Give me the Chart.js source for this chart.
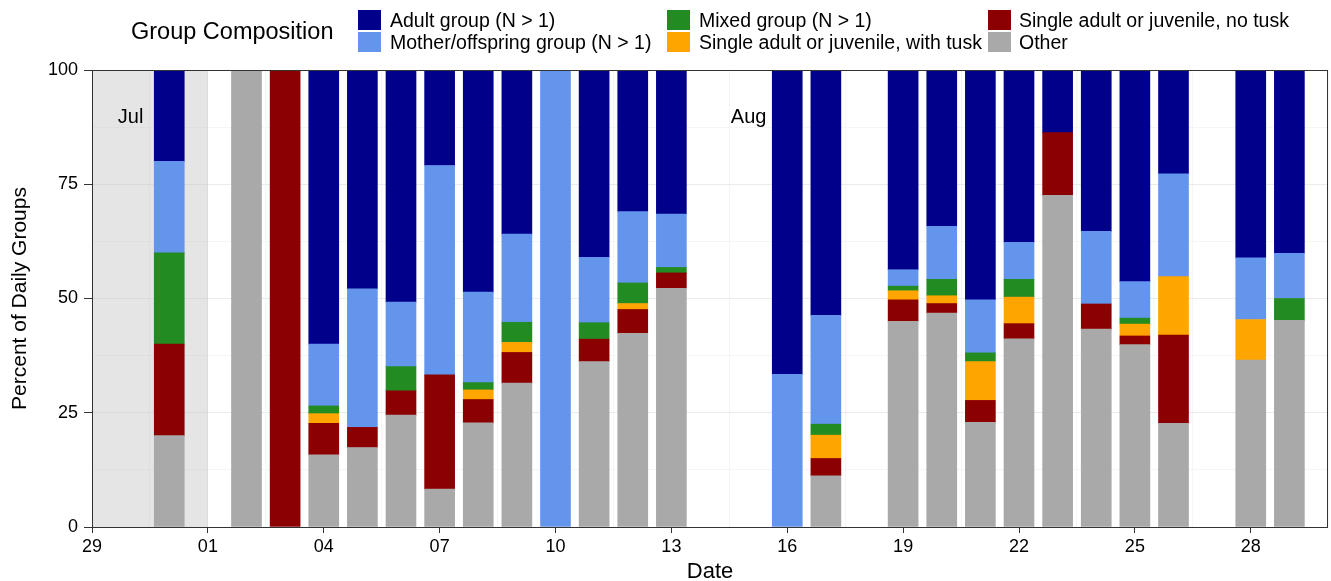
<!DOCTYPE html>
<html>
<head>
<meta charset="utf-8">
<script src="https://cdn.jsdelivr.net/npm/chart.js@4.4.0/dist/chart.umd.min.js"></script>
<style>
body { margin: 0; background: #fff; font-family: 'Liberation Sans', Arial, sans-serif; color: #000; }
#wrap { position: relative; width: 1331px; height: 581px; }
#chart { position: absolute; left: 0; top: 0; }
.legend-title { position: absolute; left: 131px; top: 17px; font-size: 23.5px; line-height: 28px; white-space: nowrap; }
.key { position: absolute; width: 23px; height: 20px; }
.lab { position: absolute; font-size: 19.5px; line-height: 22px; white-space: nowrap; }
</style>
</head>
<body>
<div id="wrap">
  <canvas id="chart" width="1331" height="581"></canvas>
  <div class="legend-title">Group Composition</div>
  <div id="legend"></div>
</div>
<script>
// days with observations (month-day)
const dates = ['07-31','08-02','08-03','08-04','08-05','08-06','08-07','08-08','08-09','08-10',
               '08-11','08-12','08-13','08-16','08-17','08-19','08-20','08-21','08-22','08-23',
               '08-24','08-25','08-26','08-28','08-29'];

// percent of daily groups, per composition class
const other    = [20, 100, 0, 15.8, 17.4, 24.5, 8.3, 22.8, 31.5, 0, 36.2, 42.4, 52.2, 0, 11.2, 45.0, 46.8, 22.9, 41.2, 72.6, 43.3, 39.9, 22.7, 36.5, 45.2];
const noTusk   = [20, 0, 100, 6.9, 4.4, 5.3, 25.0, 5.1, 6.7, 0, 4.9, 5.2, 3.4, 0, 3.8, 4.7, 2.1, 4.8, 3.3, 13.7, 5.5, 1.9, 19.3, 0, 0];
const withTusk = [0, 0, 0, 2.1, 0, 0, 0, 2.1, 2.2, 0, 0, 1.3, 0, 0, 5.1, 2.0, 1.7, 8.5, 5.8, 0, 0, 2.6, 12.8, 8.9, 0];
const mixed    = [20, 0, 0, 1.7, 0, 5.3, 0, 1.6, 4.4, 0, 3.6, 4.5, 1.2, 0, 2.4, 1.0, 3.6, 1.9, 3.9, 0, 0, 1.3, 0, 0, 4.8];
const mother   = [20, 0, 0, 13.5, 30.3, 14.1, 45.8, 19.8, 19.3, 100, 14.3, 15.6, 11.7, 33.4, 23.8, 3.6, 11.6, 11.6, 8.1, 0, 15.9, 8.0, 22.5, 13.5, 9.9];
const adult    = [20, 0, 0, 60.0, 47.9, 50.8, 20.9, 48.6, 35.9, 0, 41.0, 31.0, 31.5, 66.6, 53.7, 43.7, 34.2, 50.3, 37.7, 13.7, 35.3, 46.3, 22.7, 41.1, 40.1];

const seriesNames = ['Other', 'Single adult or juvenile, no tusk', 'Single adult or juvenile, with tusk',
                     'Mixed group (N > 1)', 'Mother/offspring group (N > 1)', 'Adult group (N > 1)'];
const seriesColors = ['#A9A9A9', '#8B0000', '#FFA500', '#228B22', '#6495ED', '#00008B'];
const seriesValues = [other, noTusk, withTusk, mixed, mother, adult];

const FONT = "'Liberation Sans', Arial, sans-serif";
const START = Date.UTC(2019, 6, 29);   // axis starts Jul 29

function dayOffset(s) {
    const [m, d] = s.split('-').map(Number);
    return (Date.UTC(2019, m - 1, d) - START) / 86400000;
}
function isMajor(v, step) {
    return Math.abs(v / step - Math.round(v / step)) < 1e-6;
}
function tickVal(c) {
    return c && c.tick ? c.tick.value : 0;
}

const xs = dates.map(dayOffset);
const datasets = seriesNames.map(function(name, i) {
    return {
        label: name,
        // zero shares are left out so no hairline is drawn
        data: xs.map((x, j) => ({ x: x, y: seriesValues[i][j] === 0 ? null : seriesValues[i][j] })),
        backgroundColor: seriesColors[i],
        borderWidth: 0,
        barThickness: 30
    };
});

// shaded first days + month labels + panel border
const decor = {
    id: 'decor',
    beforeDatasetsDraw(chart) {
        const ctx = chart.ctx, x = chart.scales.x, a = chart.chartArea;
        ctx.save();
        ctx.fillStyle = 'rgba(190,190,190,0.4)';
        const x0 = x.getPixelForValue(0), x1 = x.getPixelForValue(3);
        ctx.fillRect(x0, a.top, x1 - x0, a.bottom - a.top);
        ctx.restore();
    },
    afterDatasetsDraw(chart) {
        const ctx = chart.ctx, x = chart.scales.x, y = chart.scales.y, a = chart.chartArea;
        ctx.save();
        ctx.fillStyle = '#000';
        ctx.font = '20px ' + FONT;
        ctx.textAlign = 'center';
        ctx.textBaseline = 'middle';
        ctx.fillText('Jul', x.getPixelForValue(1), y.getPixelForValue(89.7));
        ctx.fillText('Aug', x.getPixelForValue(17), y.getPixelForValue(89.7));
        ctx.strokeStyle = '#333';
        ctx.lineWidth = 1;
        ctx.strokeRect(a.left + 0.5, a.top + 0.5, a.right - a.left - 1, a.bottom - a.top);
        ctx.restore();
    }
};

new Chart(document.getElementById('chart'), {
    type: 'bar',
    data: { datasets: datasets },
    options: {
        responsive: false,
        animation: false,
        layout: { padding: { top: 70, right: 2, left: 0, bottom: 0 } },
        plugins: { legend: { display: false }, tooltip: { enabled: false } },
        scales: {
            x: {
                type: 'linear',
                stacked: true,
                offset: false,
                min: 0,
                max: 32,
                afterFit: s => { s.height = 54; },
                border: { display: false },
                grid: {
                    offset: false,
                    color: c => isMajor(tickVal(c), 3) ? '#ebebeb' : '#f5f5f5',
                    tickColor: c => isMajor(tickVal(c), 3) ? '#333' : 'rgba(0,0,0,0)',
                    tickLength: 6
                },
                ticks: {
                    stepSize: 1.5,
                    autoSkip: false,
                    maxRotation: 0,
                    padding: 3,
                    color: '#000',
                    font: { family: FONT, size: 18 },
                    callback: function(v) {
                        if (!isMajor(v, 3)) return '';
                        const d = new Date(START + v * 86400000).getUTCDate();
                        return String(d).padStart(2, '0');
                    }
                },
                title: {
                    display: true,
                    text: 'Date',
                    color: '#000',
                    font: { family: FONT, size: 22, lineHeight: 1 },
                    padding: { top: 0, bottom: -2 }
                }
            },
            y: {
                stacked: true,
                min: 0,
                max: 100,
                afterFit: s => { s.width = 92; },
                border: { display: false },
                grid: {
                    color: c => isMajor(tickVal(c), 25) ? '#ebebeb' : '#f5f5f5',
                    tickColor: c => isMajor(tickVal(c), 25) ? '#333' : 'rgba(0,0,0,0)',
                    tickLength: 8
                },
                ticks: {
                    stepSize: 12.5,
                    autoSkip: false,
                    padding: 6,
                    color: '#000',
                    font: { family: FONT, size: 18 },
                    callback: v => isMajor(v, 25) ? String(v) : ''
                },
                title: {
                    display: true,
                    text: 'Percent of Daily Groups',
                    color: '#000',
                    font: { family: FONT, size: 21, lineHeight: 1.2 },
                    padding: { top: 8, bottom: 0 }
                }
            }
        }
    },
    plugins: [decor]
});

// legend: 3 columns x 2 rows, filled by column
const legendOrder = [5, 4, 3, 2, 1, 0];
const colKey = [358, 667, 988];
const colText = [390, 699, 1019];
const rowTop = [10, 32];
const legend = document.getElementById('legend');
legendOrder.forEach(function(si, k) {
    const col = Math.floor(k / 2), row = k % 2;
    const key = document.createElement('div');
    key.className = 'key';
    key.style.left = colKey[col] + 'px';
    key.style.top = rowTop[row] + 'px';
    key.style.background = seriesColors[si];
    legend.appendChild(key);
    const lab = document.createElement('div');
    lab.className = 'lab';
    lab.style.left = colText[col] + 'px';
    lab.style.top = (rowTop[row] - 1) + 'px';
    lab.textContent = seriesNames[si];
    legend.appendChild(lab);
});
</script>
</body>
</html>
